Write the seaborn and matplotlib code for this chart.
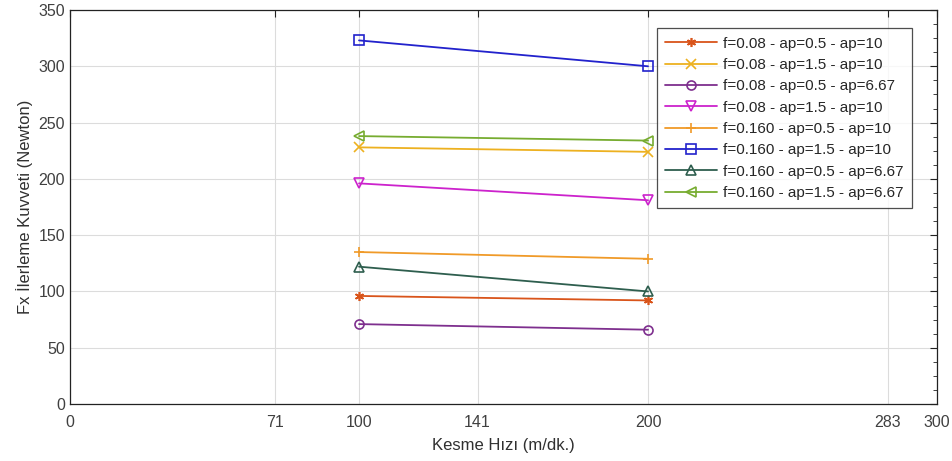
import matplotlib
matplotlib.use("Agg")
import matplotlib.pyplot as plt
import seaborn as sns
import pandas as pd
from matplotlib.ticker import MultipleLocator

# Cutting speeds (m/dk.)
speeds = [100, 200]

# Feed force per test condition (Newton)
labels = [
    "f=0.08 - ap=0.5 - ap=10",
    "f=0.08 - ap=1.5 - ap=10",
    "f=0.08 - ap=0.5 - ap=6.67",
    "f=0.08 - ap=1.5 - ap=10",
    "f=0.160 - ap=0.5 - ap=10",
    "f=0.160 - ap=1.5 - ap=10",
    "f=0.160 - ap=0.5 - ap=6.67",
    "f=0.160 - ap=1.5 - ap=6.67",
]
s1 = [96, 92]
s2 = [228, 224]
s3 = [71, 66]
s4 = [196, 181]
s5 = [135, 129]
s6 = [323, 300]
s7 = [122, 100]
s8 = [238, 234]
series = [s1, s2, s3, s4, s5, s6, s7, s8]

xticks = [0, 71, 100, 141, 200, 283, 300]
yticks = [0, 50, 100, 150, 200, 250, 300, 350]

colors = ["#D9541A", "#EDB120", "#7E2F8E", "#CC22CC",
          "#F09A28", "#2222CC", "#2E5E4E", "#77AC30"]
markers = [(6, 2, 0), "x", "o", "v", "+", "s", "^", "<"]

# Unique keys so the two identical labels stay separate series
keys = [f"{i}:{lab}" for i, lab in enumerate(labels)]
rows = []
for k, vals in zip(keys, series):
    for x, y in zip(speeds, vals):
        rows.append({"speed": x, "force": y, "cond": k})
df = pd.DataFrame(rows)

sns.set_style("white")
plt.rcParams["font.family"] = ["Liberation Sans", "DejaVu Sans"]

fig = plt.figure(figsize=(9.52, 4.61), dpi=100)
ax = fig.add_axes([0.0735, 0.1236, 0.9108, 0.8547])

for k, c, m in zip(keys, colors, markers):
    sub = df[df["cond"] == k]
    sns.lineplot(data=sub, x="speed", y="force", ax=ax, color=c,
                 marker=m, markersize=6.5, markerfacecolor="none",
                 markeredgecolor=c, markeredgewidth=1.2, linewidth=1.3,
                 label=k.split(":", 1)[1])

ax.set_xlim(0, 300)
ax.set_ylim(0, 350)
ax.set_xticks(xticks)
ax.set_yticks(yticks)
ax.yaxis.set_minor_locator(MultipleLocator(12.5))
ax.grid(True, which="major", color="#dcdcdc", linewidth=0.8)
ax.set_axisbelow(True)
ax.tick_params(axis="both", which="both", direction="in", top=True, right=True,
               labelsize=11.5, colors="#222222", labelcolor="#404040")
ax.tick_params(which="major", length=5)
ax.tick_params(which="minor", length=3)
ax.tick_params(axis="x", pad=8)
for sp in ax.spines.values():
    sp.set_color("#222222")
    sp.set_linewidth(0.9)

ax.set_xlabel("Kesme Hızı (m/dk.)", fontsize=12, color="#303030", labelpad=6)
ax.set_ylabel("Fx İlerleme Kuvveti (Newton)", fontsize=12, color="#303030")

leg = ax.legend(loc="upper right", bbox_to_anchor=(0.971, 0.954), fontsize=11,
                frameon=True, fancybox=False, edgecolor="#222222",
                handlelength=3.4, labelspacing=0.48, borderpad=0.55,
                handletextpad=0.4, borderaxespad=0)
leg.get_frame().set_linewidth(0.9)

fig.savefig("out.png", dpi=100, facecolor="white")
